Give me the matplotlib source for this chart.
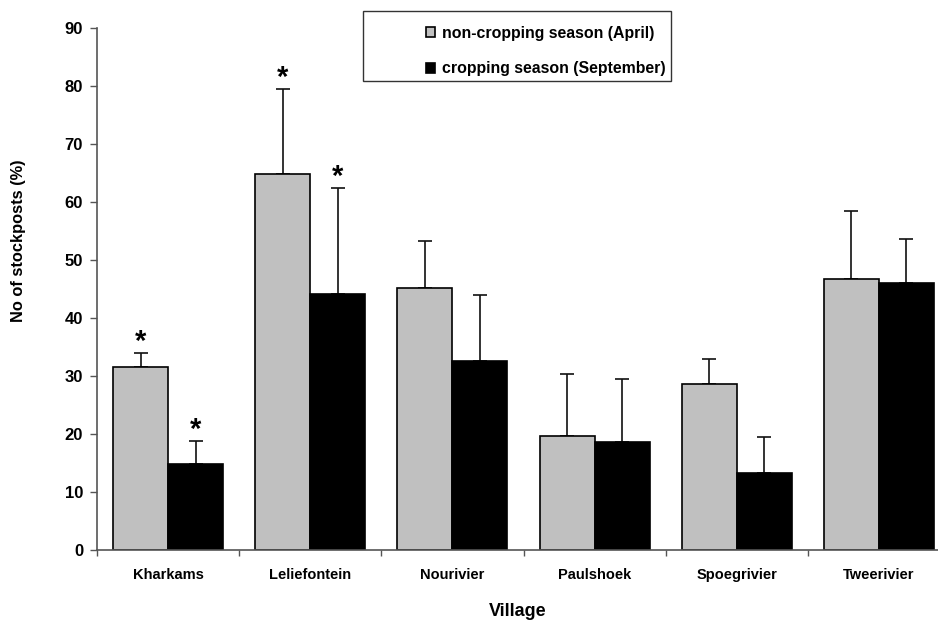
import numpy as np
import matplotlib
matplotlib.use("Agg")
import matplotlib.pyplot as plt
from matplotlib.patches import Rectangle

plt.rcParams['font.family'] = ['Liberation Sans', 'DejaVu Sans']
plt.rcParams['font.weight'] = 'bold'

villages = ["Kharkams", "Leliefontein", "Nourivier", "Paulshoek", "Spoegrivier", "Tweerivier"]
april = [31.6, 64.8, 45.1, 19.7, 28.6, 46.7]
april_err = [2.3, 14.6, 8.2, 10.7, 4.4, 11.8]
september = [14.8, 44.2, 32.6, 18.7, 13.2, 46.0]
september_err = [4.0, 18.2, 11.4, 10.8, 6.2, 7.6]
# significance stars (True = star above the bar)
april_star = [True, True, False, False, False, False]
september_star = [True, True, False, False, False, False]

W, H = 938, 621
fig = plt.figure(figsize=(W / 100, H / 100), dpi=100)
ax = fig.add_axes([97 / W, (H - 550) / H, (950 - 97) / W, (550 - 28) / H])

x = np.arange(len(villages))
bw = 0.387

b1 = ax.bar(x - bw / 2, april, bw, color="#c0c0c0", edgecolor="black", linewidth=1.2,
            label="non-cropping season (April)", zorder=2)
b2 = ax.bar(x + bw / 2, september, bw, color="black", edgecolor="black", linewidth=1.2,
            label="cropping season (September)", zorder=2)

zeros = np.zeros(len(villages))
ax.errorbar(x - bw / 2, april, yerr=[zeros, april_err], fmt="none", ecolor="#111111",
            elinewidth=1.2, capsize=5, capthick=1.2, zorder=1)
ax.errorbar(x + bw / 2, september, yerr=[zeros, september_err], fmt="none", ecolor="#111111",
            elinewidth=1.2, capsize=5, capthick=1.2, zorder=1)

for i in range(len(villages)):
    if april_star[i]:
        ax.text(x[i] - bw / 2, april[i] + april_err[i] + 0.6, "*", ha="center", va="baseline",
                fontsize=21, fontweight="bold")
    if september_star[i]:
        ax.text(x[i] + bw / 2, september[i] + september_err[i] + 0.6, "*", ha="center", va="baseline",
                fontsize=21, fontweight="bold")

ax.set_xlim(-0.5, 5.5)
ax.set_ylim(0, 90)
ax.set_yticks(np.arange(0, 91, 10))
ax.tick_params(axis="y", length=5, width=1, pad=5, labelsize=12, color="#555555")
ax.set_xticks(x)
ax.set_xticklabels(villages, fontsize=10.5, fontweight="bold")
ax.set_xticks(np.arange(-0.5, 6, 1), minor=True)
ax.tick_params(axis="x", which="major", length=0, pad=13)
ax.tick_params(axis="x", which="minor", length=4, width=1, color="#555555")
for lab in ax.get_yticklabels():
    lab.set_fontweight("bold")

for s in ["top", "right"]:
    ax.spines[s].set_visible(False)
for s in ["left", "bottom"]:
    ax.spines[s].set_color("#555555")
    ax.spines[s].set_linewidth(1.2)

fig.text(18 / W, 1 - 241 / H, "No of stockposts (%)", rotation=90, ha="center", va="center",
         fontsize=11.8, fontweight="bold")
fig.text(518 / W, 1 - 612 / H, "Village", ha="center", va="center",
         fontsize=13, fontweight="bold")

fig.patches.append(Rectangle((363 / W, 1 - 81 / H), (671 - 363) / W, 70 / H,
                             transform=fig.transFigure, fill=False, edgecolor="#333333",
                             linewidth=1.0))
fig.legend(handles=[b1, b2], loc="center left", bbox_to_anchor=(418 / W, 1 - 51 / H),
           frameon=False, fontsize=11.4, handlelength=0.6, handleheight=0.6,
           handletextpad=0.4, labelspacing=1.3, borderpad=0)

fig.savefig("out.png", dpi=100)
